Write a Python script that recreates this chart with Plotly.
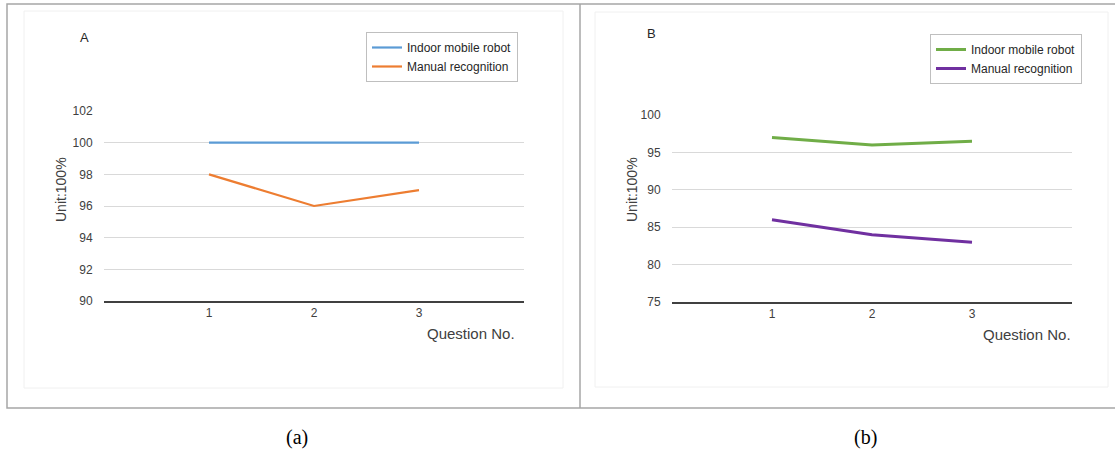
import plotly.graph_objects as go

questions = ["1", "2", "3"]
a_robot = [100, 100, 100]
a_manual = [98, 96, 97]
b_robot = [97, 96, 96.5]
b_manual = [86, 84, 83]
series_names = ["Indoor mobile robot", "Manual recognition"]

W, H = 1115, 454
def px(x): return x / W
def py(y): return 1 - y / H

FONT = "Liberation Sans, Arial, sans-serif"

fig = go.Figure()
fig.add_trace(go.Scatter(x=questions, y=a_robot, mode="lines", name=series_names[0],
                         line=dict(color="#5B9BD5", width=2.2), xaxis="x", yaxis="y", legend="legend"))
fig.add_trace(go.Scatter(x=questions, y=a_manual, mode="lines", name=series_names[1],
                         line=dict(color="#ED7D31", width=2.2), xaxis="x", yaxis="y", legend="legend"))
fig.add_trace(go.Scatter(x=questions, y=b_robot, mode="lines", name=series_names[0],
                         line=dict(color="#70AD47", width=3), xaxis="x2", yaxis="y2", legend="legend2"))
fig.add_trace(go.Scatter(x=questions, y=b_manual, mode="lines", name=series_names[1],
                         line=dict(color="#7030A0", width=3), xaxis="x2", yaxis="y2", legend="legend2"))

xcommon = dict(type="category", range=[-1, 3], showgrid=False, zeroline=False, showline=True,
               linecolor="#404040", linewidth=1.5, ticks="", automargin=False,
               tickfont=dict(size=12, color="#404040", family=FONT))
ycommon = dict(showgrid=True, gridcolor="#d9d9d9", gridwidth=1, zeroline=False, showline=False,
               ticks="outside", ticklen=8, tickcolor="rgba(0,0,0,0)", automargin=False,
               tickfont=dict(size=12, color="#404040", family=FONT))

legcommon = dict(bgcolor="white", bordercolor="#bfbfbf", borderwidth=1,
                 font=dict(size=12, color="#262626", family=FONT), xanchor="left", yanchor="middle",
                 itemwidth=30, tracegroupgap=0)

fig.update_layout(
    template="none",
    width=W, height=H, autosize=False,
    margin=dict(l=0, r=0, t=0, b=0, pad=0, autoexpand=False),
    paper_bgcolor="white", plot_bgcolor="white",
    xaxis=dict(domain=[px(104), px(524)], anchor="y", **xcommon),
    yaxis=dict(domain=[py(301), py(111)], anchor="x", range=[90, 102], dtick=2, **ycommon),
    xaxis2=dict(domain=[px(672), px(1072)], anchor="y2", **xcommon),
    yaxis2=dict(domain=[py(302), py(115)], anchor="x2", range=[75, 100], dtick=5, **ycommon),
    legend=dict(x=px(366), y=py(57), **legcommon),
    legend2=dict(x=px(930), y=py(59), **legcommon),
    showlegend=True,
)

shapes = [
    dict(type="rect", xref="paper", yref="paper", x0=px(7), x1=px(1118), y0=py(408), y1=py(4),
         line=dict(color="#a6a6a6", width=1.5)),
    dict(type="line", xref="paper", yref="paper", x0=px(580), x1=px(580), y0=py(408), y1=py(4),
         line=dict(color="#a6a6a6", width=1.5)),
    dict(type="rect", xref="paper", yref="paper", x0=px(24), x1=px(563), y0=py(388), y1=py(11),
         line=dict(color="#f0f0f0", width=1)),
    dict(type="rect", xref="paper", yref="paper", x0=px(595), x1=px(1108), y0=py(387), y1=py(12),
         line=dict(color="#f0f0f0", width=1)),
]
fig.update_layout(shapes=shapes)

ann = []
def A(x, y, text, size=13, color="#262626", family=FONT, angle=0, xanchor="center"):
    ann.append(dict(xref="paper", yref="paper", x=px(x), y=py(y), text=text, showarrow=False,
                    font=dict(size=size, color=color, family=family), textangle=angle,
                    xanchor=xanchor, yanchor="middle"))

A(84, 38, "A", size=13)
A(651, 33, "B", size=13)
A(61, 190, "Unit:100%", size=14, color="#404040", angle=-90)
A(632, 190, "Unit:100%", size=14, color="#404040", angle=-90)
A(471, 333, "Question No.", size=15, color="#404040")
A(1027, 334, "Question No.", size=15, color="#404040")
A(297, 437, "(a)", size=20, color="black", family="Liberation Serif, Times New Roman, serif")
A(865, 437, "(b)", size=20, color="black", family="Liberation Serif, Times New Roman, serif")
fig.update_layout(annotations=ann)

fig.write_html("out.html", config={"displayModeBar": False},
               post_script="document.body.style.margin='0';document.body.style.overflow='hidden';")
